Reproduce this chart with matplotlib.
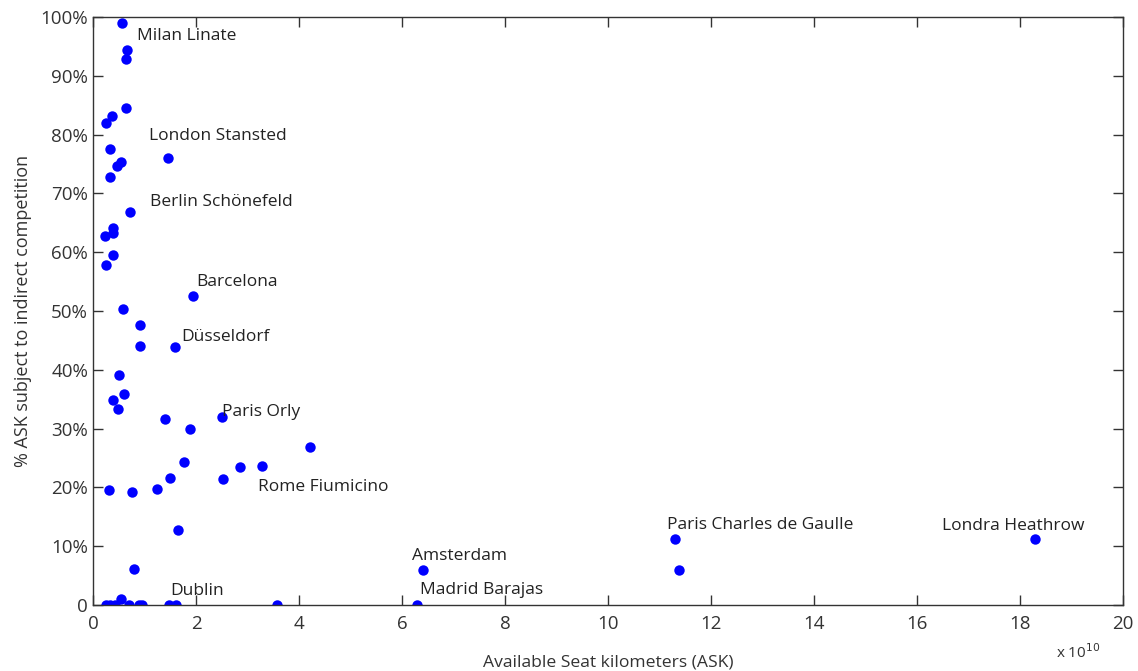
import matplotlib.pyplot as plt
from matplotlib.ticker import FuncFormatter

# Available seat kilometers (x 10^10) and % ASK subject to indirect competition
ask = [0.56, 0.66, 0.64, 0.64, 0.36, 0.25, 0.33, 0.54, 0.47, 0.34, 1.46, 0.71,
       0.38, 0.39, 0.24, 0.38, 0.26, 0.58, 0.92, 0.92, 1.59, 1.95, 0.51, 0.61,
       0.39, 0.49, 1.40, 1.88, 2.50, 4.21, 1.77, 2.86, 3.28, 1.50, 2.52, 0.32,
       0.75, 1.24, 1.66, 0.80, 0.54, 0.25, 0.33, 0.43, 0.70, 0.90, 0.95, 1.48,
       1.62, 3.58, 6.41, 6.30, 11.31, 11.38, 18.29]
share = [99.0, 94.3, 92.8, 84.5, 83.2, 82.0, 77.6, 75.4, 74.7, 72.8, 76.0, 66.8,
         64.1, 63.2, 62.8, 59.6, 57.8, 50.4, 47.6, 44.1, 43.8, 52.5, 39.1, 35.8,
         34.8, 33.3, 31.6, 30.0, 31.9, 26.9, 24.4, 23.5, 23.7, 21.6, 21.4, 19.5,
         19.2, 19.8, 12.8, 6.1, 1.0, 0.0, 0.0, 0.0, 0.0, 0.0, 0.0, 0.0,
         0.0, 0.0, 5.9, 0.0, 11.2, 5.9, 11.2]

names = ["Milan Linate", "London Stansted", "Berlin Schönefeld", "Barcelona",
         "Düsseldorf", "Paris Orly", "Rome Fiumicino", "Dublin", "Amsterdam",
         "Madrid Barajas", "Paris Charles de Gaulle", "Londra Heathrow"]
name_x = [0.85, 1.09, 1.11, 2.01, 1.71, 2.50, 3.21, 1.51, 6.20, 6.35, 11.15, 16.48]
name_y = [96.8, 79.8, 68.5, 55.0, 45.5, 32.9, 20.1, 2.3, 8.3, 2.6, 13.6, 13.4]

plt.rcParams['font.family'] = ['Open Sans', 'DejaVu Sans']

fig = plt.figure(figsize=(11.38, 6.71), dpi=100)
ax = fig.add_axes([0.0817, 0.0984, 0.9051, 0.8763])

ax.plot(ask, share, 'o', color='#0000ff', markersize=7.5, markeredgewidth=0)

for n, x, y in zip(names, name_x, name_y):
    ax.text(x, y, n, fontsize=12.5, color='#222222', va='center', ha='left')

ax.set_xlim(0, 20)
ax.set_ylim(0, 100)
ax.set_xticks(range(0, 21, 2))
ax.set_yticks(range(0, 101, 10))
ax.yaxis.set_major_formatter(FuncFormatter(lambda v, p: "0" if v == 0 else f"{v:.0f}%"))

ax.tick_params(direction='in', top=True, right=True, length=7, width=1,
               labelsize=13.5, labelcolor='#333333', color='#333333')
ax.tick_params(axis='x', pad=7)
for s in ax.spines.values():
    s.set_color('#333333')
    s.set_linewidth(1)

ax.set_xlabel("Available Seat kilometers (ASK)", fontsize=12.6, color='#333333', labelpad=16)
ax.set_ylabel("% ASK subject to indirect competition", fontsize=13, color='#333333', labelpad=6)
fig.text(0.928, 0.02, r"x 10$^{10}$", fontsize=11, color='#333333')

fig.savefig("out.png", dpi=100)
